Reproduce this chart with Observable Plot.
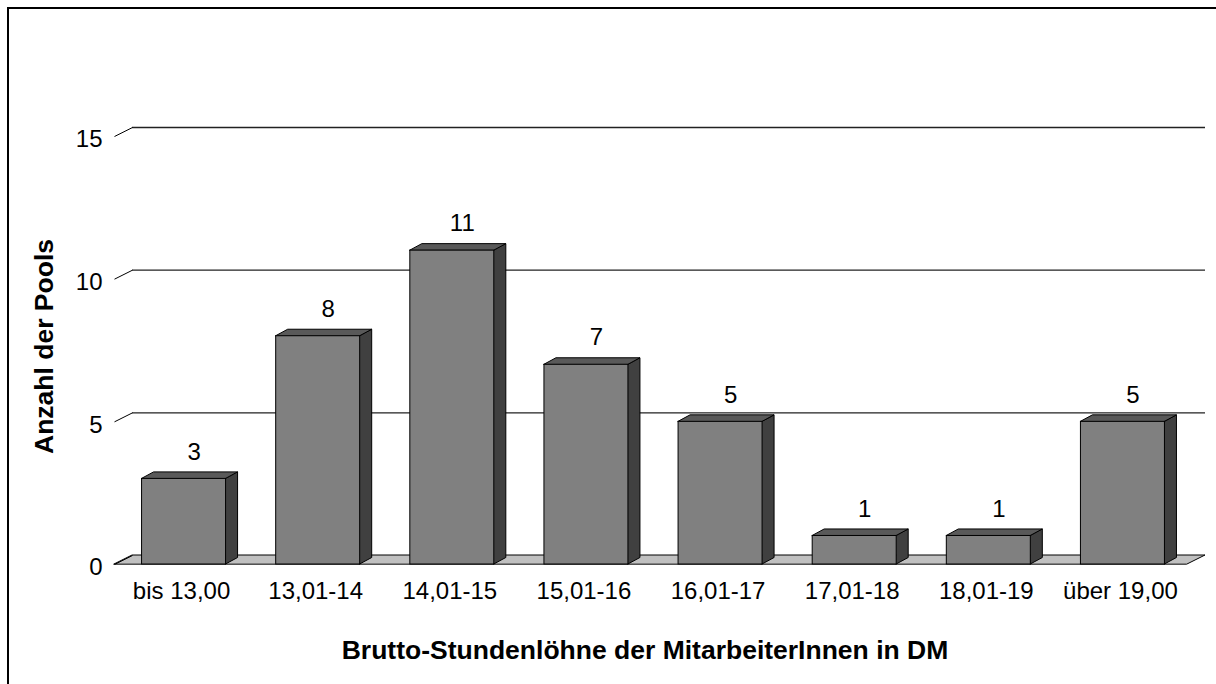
<!DOCTYPE html>
<html>
<head>
<meta charset="utf-8">
<script src="https://cdn.jsdelivr.net/npm/d3@7"></script>
<script src="https://cdn.jsdelivr.net/npm/@observablehq/plot@0.6"></script>
<style>
  html, body { margin: 0; padding: 0; background: #fff; overflow: hidden; }
  #wrap { position: relative; width: 1216px; height: 684px; }
  #border { position: absolute; left: 7px; top: 7px; width: 1240px; height: 720px; border: 2px solid #000; box-sizing: border-box; pointer-events: none; }
  #chart { position: absolute; left: 0; top: 0; }
</style>
</head>
<body>
<div id="wrap"><div id="border"></div><div id="chart"></div></div>
<script>
// ---- data ----
const categories = ["bis 13,00", "13,01-14", "14,01-15", "15,01-16", "16,01-17", "17,01-18", "18,01-19", "über 19,00"];
const counts = [3, 8, 11, 7, 5, 1, 1, 5];
const yTicks = [0, 5, 10, 15];
const gridValues = [5, 10, 15];
const yTitle = "Anzahl der Pools";
const xTitle = "Brutto-Stundenlöhne der MitarbeiterInnen in DM";

// ---- layout ----
const W = 1216, H = 684;
const mL = 114, mR = 29, mT = 136, mB = 120;
const pxX = (W - mL - mR) / categories.length;
const pxY = (H - mT - mB) / 15;
const barHalf = 42 / pxX, barShift = 2.5 / pxX;
const bdx = 12 / pxX, bdy = 6.5 / pxY;   // bar depth
const wdx = 18 / pxX, wdy = 9 / pxY;     // wall depth

const rows = categories.map((c, i) => ({
  c, v: counts[i],
  xl: i + 0.5 - barHalf + barShift,
  xr: i + 0.5 + barHalf + barShift
}));
const sidePts = rows.flatMap((d, i) => [
  {k: i, x: d.xr, y1: 0, y2: d.v},
  {k: i, x: d.xr + bdx, y1: bdy, y2: d.v + bdy}
]);
const topPts = rows.flatMap((d, i) => [
  {k: i, y: d.v, x1: d.xl, x2: d.xr},
  {k: i, y: d.v + bdy, x1: d.xl + bdx, x2: d.xr + bdx}
]);
const floorPts = [
  {y: 0, x1: 0, x2: categories.length},
  {y: wdy, x1: wdx, x2: categories.length + wdx}
];

const font = "Arial, 'Liberation Sans', sans-serif";

const chart = Plot.plot({
  width: W, height: H,
  marginLeft: mL, marginRight: mR, marginTop: mT, marginBottom: mB,
  style: {fontFamily: font, color: "#000", background: "transparent", overflow: "visible"},
  x: {domain: [0, categories.length]},
  y: {domain: [0, 15]},
  marks: [
    // floor
    Plot.areaX(floorPts, {y: "y", x1: "x1", x2: "x2", fill: "#c0c0c0", stroke: "#000", strokeWidth: 1, curve: "linear"}),
    // back wall gridlines
    Plot.ruleY(gridValues, {y: d => d + wdy, x1: wdx, x2: categories.length + wdx, stroke: "#222", strokeWidth: 1.3}),
    // tick connectors
    Plot.link(yTicks, {x1: 0, x2: wdx, y1: d => d, y2: d => d + wdy, stroke: "#000", strokeWidth: 1}),
    // bar side faces
    Plot.areaY(sidePts, {x: "x", y1: "y1", y2: "y2", z: "k", fill: "#404040", stroke: "#000", strokeWidth: 1, curve: "linear"}),
    // bar top faces
    Plot.areaX(topPts, {y: "y", x1: "x1", x2: "x2", z: "k", fill: "#595959", stroke: "#000", strokeWidth: 1, curve: "linear"}),
    // bar front faces
    Plot.rect(rows, {x1: "xl", x2: "xr", y1: 0, y2: "v", fill: "#808080", stroke: "#000", strokeWidth: 1}),
    // value labels
    Plot.text(rows, {x: d => (d.xl + d.xr) / 2, y: "v", text: d => String(d.v), dx: 10, dy: -27, fontSize: 24, fill: "#000"}),
    // axes
    Plot.axisY(yTicks, {tickSize: 0, tickPadding: 12, fontSize: 24, dy: 3, label: null, tickFormat: d => String(d)}),
    Plot.axisX(categories.map((c, i) => i + 0.5), {tickSize: 0, tickPadding: 17, fontSize: 24, label: null, tickFormat: d => categories[Math.floor(d)]}),
    // axis titles
    Plot.text([yTitle], {frameAnchor: "left", textAnchor: "middle", lineAnchor: "middle", dx: -70, dy: -4, rotate: -90, fontSize: 26.5, fontWeight: "bold", fill: "#000"}),
    Plot.text([xTitle], {frameAnchor: "bottom", textAnchor: "middle", lineAnchor: "middle", dx: -6, dy: 86, fontSize: 26.5, fontWeight: "bold", fill: "#000"})
  ]
});
document.getElementById("chart").appendChild(chart);
</script>
</body>
</html>
